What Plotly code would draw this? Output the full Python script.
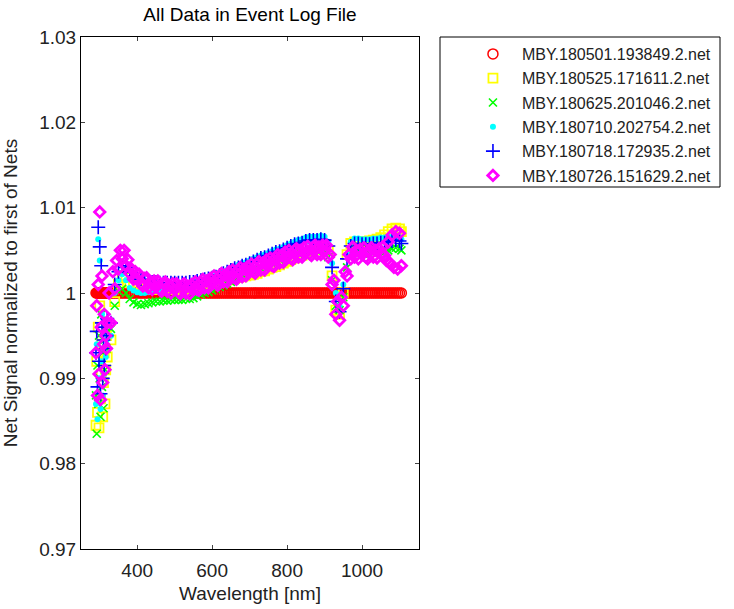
import plotly.graph_objects as go

# ---------------- text ----------------
title_text = "All Data in Event Log File"
x_label = "Wavelength [nm]"
y_label = "Net Signal normalized to first of Nets"
series_names = [
    "MBY.180501.193849.2.net",
    "MBY.180525.171611.2.net",
    "MBY.180625.201046.2.net",
    "MBY.180710.202754.2.net",
    "MBY.180718.172935.2.net",
    "MBY.180726.151629.2.net",
]
x_tick_vals = [400, 600, 800, 1000]
y_tick_vals = [0.97, 0.98, 0.99, 1.00, 1.01, 1.02, 1.03]
y_tick_text = ["0.97", "0.98", "0.99", "1", "1.01", "1.02", "1.03"]

# ---------------- wavelength grids (nm) ----------------
wl_uv = list(range(290, 321, 2))                       # 16 points
wl = wl_uv + list(range(330, 1101, 10)) + [1105]       # 95 points
wl_fine = wl_uv + list(range(325, 1106, 5))            # 173 points

# ---------------- series values ----------------
red = [1.0] * len(wl_fine)   # first net normalized by itself

yellow = [
    0.9845, 0.9920, 0.9860, 0.9960, 0.9842, 0.9985, 0.9876, 0.9905,
    0.9940, 0.9855, 0.9895, 0.9930, 0.9870, 0.9910, 0.9950, 0.9925,
    0.9945, 0.9990, 1.0010, 1.0020, 1.0018, 1.0012, 1.0009, 1.0007, 1.0006, 1.0005,
    1.0005, 1.0004, 1.0005, 1.0004, 1.0004, 1.0005, 1.0004, 1.0004, 1.0005, 1.0005, 1.0004, 1.0005,
    1.0006, 1.0007, 1.0008, 1.0009, 1.0010, 1.0011, 1.0012, 1.0013, 1.0014, 1.0015,
    1.0016, 1.0017, 1.0018, 1.0019, 1.0020, 1.0021, 1.0022, 1.0023, 1.0025, 1.0026,
    1.0028, 1.0030, 1.0031, 1.0033, 1.0035, 1.0037, 1.0039, 1.0041, 1.0042, 1.0044,
    1.0046, 1.0048, 1.0050, 1.0052, 1.0054, 1.0056,
    1.0050, 1.0020, 0.9980, 0.9975, 1.0000, 1.0045, 1.0058, 1.0060, 1.0060, 1.0060,
    1.0060, 1.0061, 1.0062, 1.0063, 1.0065, 1.0068, 1.0072, 1.0075, 1.0076, 1.0075,
    1.0072,
]

green = [
    0.9880, 0.9835, 0.9915, 0.9870, 0.9950, 0.9900, 0.9855, 0.9975,
    0.9890, 0.9930, 0.9865, 0.9945, 0.9910, 0.9960, 0.9935, 0.9955,
    0.9958, 0.9985, 1.0002, 1.0005, 1.0000, 0.9993, 0.9989, 0.9987, 0.9986, 0.9987,
    0.9988, 0.9989, 0.9990, 0.9990, 0.9991, 0.9991, 0.9992, 0.9992, 0.9992, 0.9992, 0.9993, 0.9993,
    0.9994, 0.9996, 0.9998, 1.0000, 1.0001, 1.0003, 1.0005, 1.0007, 1.0009, 1.0011,
    1.0013, 1.0015, 1.0017, 1.0019, 1.0021, 1.0023, 1.0025, 1.0027, 1.0029, 1.0031,
    1.0033, 1.0035, 1.0037, 1.0039, 1.0041, 1.0043, 1.0044, 1.0045, 1.0046, 1.0047,
    1.0048, 1.0049, 1.0049, 1.0049, 1.0050, 1.0049,
    1.0042, 1.0015, 0.9985, 0.9980, 0.9995, 1.0030, 1.0045, 1.0047, 1.0047, 1.0046,
    1.0046, 1.0046, 1.0047, 1.0047, 1.0048, 1.0048, 1.0050, 1.0052, 1.0053, 1.0052,
    1.0050,
]

cyan = [
    0.9870, 0.9940, 0.9852, 1.0063, 0.9900, 1.0038, 0.9864, 0.9920,
    0.9975, 0.9880, 0.9935, 0.9905, 0.9955, 0.9925, 0.9945, 0.9965,
    0.9950, 1.0000, 1.0015, 1.0022, 1.0015, 1.0006, 1.0003, 1.0001, 1.0000, 1.0000,
    1.0001, 1.0002, 1.0003, 1.0003, 1.0004, 1.0005, 1.0005, 1.0006, 1.0007, 1.0008, 1.0009, 1.0010,
    1.0012, 1.0013, 1.0015, 1.0016, 1.0018, 1.0019, 1.0021, 1.0023, 1.0025, 1.0027,
    1.0029, 1.0031, 1.0033, 1.0035, 1.0036, 1.0038, 1.0040, 1.0042, 1.0044, 1.0045,
    1.0047, 1.0049, 1.0051, 1.0052, 1.0054, 1.0056, 1.0058, 1.0060, 1.0062, 1.0063,
    1.0065, 1.0066, 1.0066, 1.0066, 1.0067, 1.0066,
    1.0060, 1.0035, 1.0000, 0.9985, 1.0010, 1.0045, 1.0060, 1.0064, 1.0064, 1.0063,
    1.0063, 1.0063, 1.0064, 1.0064, 1.0065, 1.0065, 1.0066, 1.0066, 1.0066, 1.0065,
    1.0063,
]

blue = [
    0.9930, 0.9955, 0.9890, 1.0077, 0.9920, 1.0054, 0.9882, 1.0032,
    0.9965, 0.9900, 0.9945, 0.9915, 0.9960, 0.9935, 0.9950, 0.9970,
    0.9965, 1.0010, 1.0025, 1.0032, 1.0030, 1.0024, 1.0020, 1.0018, 1.0016, 1.0015,
    1.0014, 1.0013, 1.0013, 1.0012, 1.0012, 1.0012, 1.0012, 1.0012, 1.0012, 1.0012, 1.0012, 1.0013,
    1.0013, 1.0014, 1.0015, 1.0016, 1.0017, 1.0018, 1.0019, 1.0021, 1.0023, 1.0025,
    1.0027, 1.0029, 1.0030, 1.0032, 1.0033, 1.0035, 1.0037, 1.0039, 1.0041, 1.0042,
    1.0044, 1.0046, 1.0048, 1.0049, 1.0051, 1.0053, 1.0055, 1.0057, 1.0058, 1.0059,
    1.0061, 1.0062, 1.0062, 1.0062, 1.0063, 1.0062,
    1.0055, 1.0030, 0.9990, 0.9978, 1.0005, 1.0040, 1.0055, 1.0058, 1.0058, 1.0057,
    1.0057, 1.0057, 1.0058, 1.0058, 1.0059, 1.0059, 1.0060, 1.0061, 1.0062, 1.0061,
    1.0058,
]

magenta = [
    0.9930, 0.9985, 0.9880, 1.0010, 0.9905, 1.0095, 0.9875, 0.9960,
    1.0020, 0.9895, 0.9940, 0.9975, 0.9910, 0.9950, 0.9935, 0.9965,
    # 325 - 370
    1.0000, 0.9965, 1.0025, 1.0005, 1.0038, 1.0028, 1.0050, 1.0040, 1.0050, 1.0032,
    # 375 - 420
    1.0039, 1.0023, 1.0028, 1.0016, 1.0025, 1.0016, 1.0022, 1.0011, 1.0008, 1.0017,
    # 425 - 470
    1.0018, 1.0006, 1.0013, 1.0004, 1.0014, 1.0007, 1.0014, 1.0004, 1.0002, 1.0011,
    # 475 - 520
    1.0013, 1.0002, 1.0009, 1.0000, 1.0011, 1.0004, 1.0011, 1.0001, 0.9999, 1.0009,
    # 525 - 570
    1.0011, 1.0000, 1.0008, 0.9999, 1.0010, 1.0004, 1.0013, 1.0004, 1.0003, 1.0013,
    # 575 - 620
    1.0016, 1.0006, 1.0014, 1.0006, 1.0017, 1.0011, 1.0020, 1.0011, 1.0009, 1.0020,
    # 625 - 670
    1.0023, 1.0013, 1.0021, 1.0013, 1.0025, 1.0019, 1.0027, 1.0018, 1.0016, 1.0027,
    # 675 - 720
    1.0030, 1.0019, 1.0028, 1.0020, 1.0031, 1.0025, 1.0034, 1.0025, 1.0023, 1.0034,
    # 725 - 770
    1.0037, 1.0027, 1.0035, 1.0027, 1.0039, 1.0033, 1.0041, 1.0032, 1.0031, 1.0042,
    # 775 - 820
    1.0045, 1.0035, 1.0044, 1.0036, 1.0048, 1.0042, 1.0050, 1.0041, 1.0039, 1.0050,
    # 825 - 870
    1.0052, 1.0042, 1.0050, 1.0042, 1.0053, 1.0047, 1.0055, 1.0046, 1.0044, 1.0054,
    # 875 - 920
    1.0056, 1.0045, 1.0054, 1.0045, 1.0056, 1.0049, 1.0056, 1.0042, 1.0045, 1.0010,
    # 925 - 970
    1.0015, 0.9975, 0.9990, 0.9968, 0.9995, 0.9985, 1.0025, 1.0020, 1.0045, 1.0040,
    # 975 - 1020
    1.0054, 1.0042, 1.0050, 1.0040, 1.0051, 1.0045, 1.0053, 1.0042, 1.0040, 1.0050,
    # 1025 - 1070
    1.0053, 1.0042, 1.0050, 1.0041, 1.0052, 1.0046, 1.0054, 1.0044, 1.0038, 1.0060,
    # 1075 - 1105
    1.0035, 1.0068, 1.0030, 1.0072, 1.0028, 1.0070, 1.0032,
]

for name, arr, grid in [("yellow", yellow, wl), ("green", green, wl), ("cyan", cyan, wl),
                        ("blue", blue, wl), ("magenta", magenta, wl_fine)]:
    assert len(arr) == len(grid), (name, len(arr), len(grid))

# ---------------- figure ----------------
fig = go.Figure()

styles = [
    (wl_fine, red, dict(symbol="circle-open", size=10, color="#FF0000", line=dict(width=1.5, color="#FF0000"))),
    (wl, yellow, dict(symbol="square-open", size=9, color="#FFFF00", line=dict(width=1.8, color="#FFFF00"))),
    (wl, green, dict(symbol="x-thin-open", size=8, color="#00FF00", line=dict(width=1.6, color="#00FF00"))),
    (wl, cyan, dict(symbol="circle", size=6, color="#00FFFF", line=dict(width=0))),
    (wl, blue, dict(symbol="cross-thin-open", size=10, color="#0000FF", line=dict(width=1.6, color="#0000FF"))),
    (wl_fine, magenta, dict(symbol="diamond-open", size=8, color="#FF00FF", line=dict(width=2.8, color="#FF00FF"))),
]
for i, (xs, ys, mk) in enumerate(styles):
    fig.add_trace(go.Scatter(x=xs, y=ys, mode="markers", name=series_names[i],
                             marker=mk, legendgroup=str(i)))

font_family = "Arial, Liberation Sans, sans-serif"
fig.update_layout(
    template="none",
    width=734, height=609,
    margin=dict(l=81, r=315, t=37, b=60, pad=0),
    paper_bgcolor="white", plot_bgcolor="white",
    font=dict(family=font_family, size=19, color="black"),
    title=dict(text=title_text, x=(81 + 419) / 2 / 734, xanchor="center", xref="container",
               y=1 - 14 / 609, yanchor="middle", yref="container",
               font=dict(size=19, color="black")),
    showlegend=True,
    legend=dict(x=1.133, xanchor="left", y=1.0, yanchor="top",
                font=dict(size=16, color="#222222"), bgcolor="rgba(0,0,0,0)",
                borderwidth=0, traceorder="grouped", tracegroupgap=0.5,
                itemwidth=48, itemsizing="trace"),
    xaxis=dict(range=[250, 1152], tickvals=x_tick_vals, ticks="inside", ticklen=4,
               showline=True, linecolor="black", linewidth=1, mirror="ticks",
               showgrid=False, zeroline=False, automargin=False,
               tickfont=dict(size=19, color="#222222"), ticklabelstandoff=4,
               title=dict(text=x_label, standoff=6, font=dict(size=19, color="#222222"))),
    yaxis=dict(range=[0.97, 1.03], tickvals=y_tick_vals, ticktext=y_tick_text,
               ticks="inside", ticklen=4,
               showline=True, linecolor="black", linewidth=1, mirror="ticks",
               showgrid=False, zeroline=False, automargin=False,
               tickfont=dict(size=19, color="#222222"),
               title=dict(text=y_label, standoff=16, font=dict(size=19, color="#222222"))),
    shapes=[dict(type="rect", xref="paper", yref="paper",
                 x0=(440 - 81) / 338, x1=(720 - 81) / 338, y0=(549 - 187) / 512, y1=1.0,
                 line=dict(color="black", width=1), fillcolor="rgba(0,0,0,0)", layer="above")],
)

fig.write_html("out.html")
